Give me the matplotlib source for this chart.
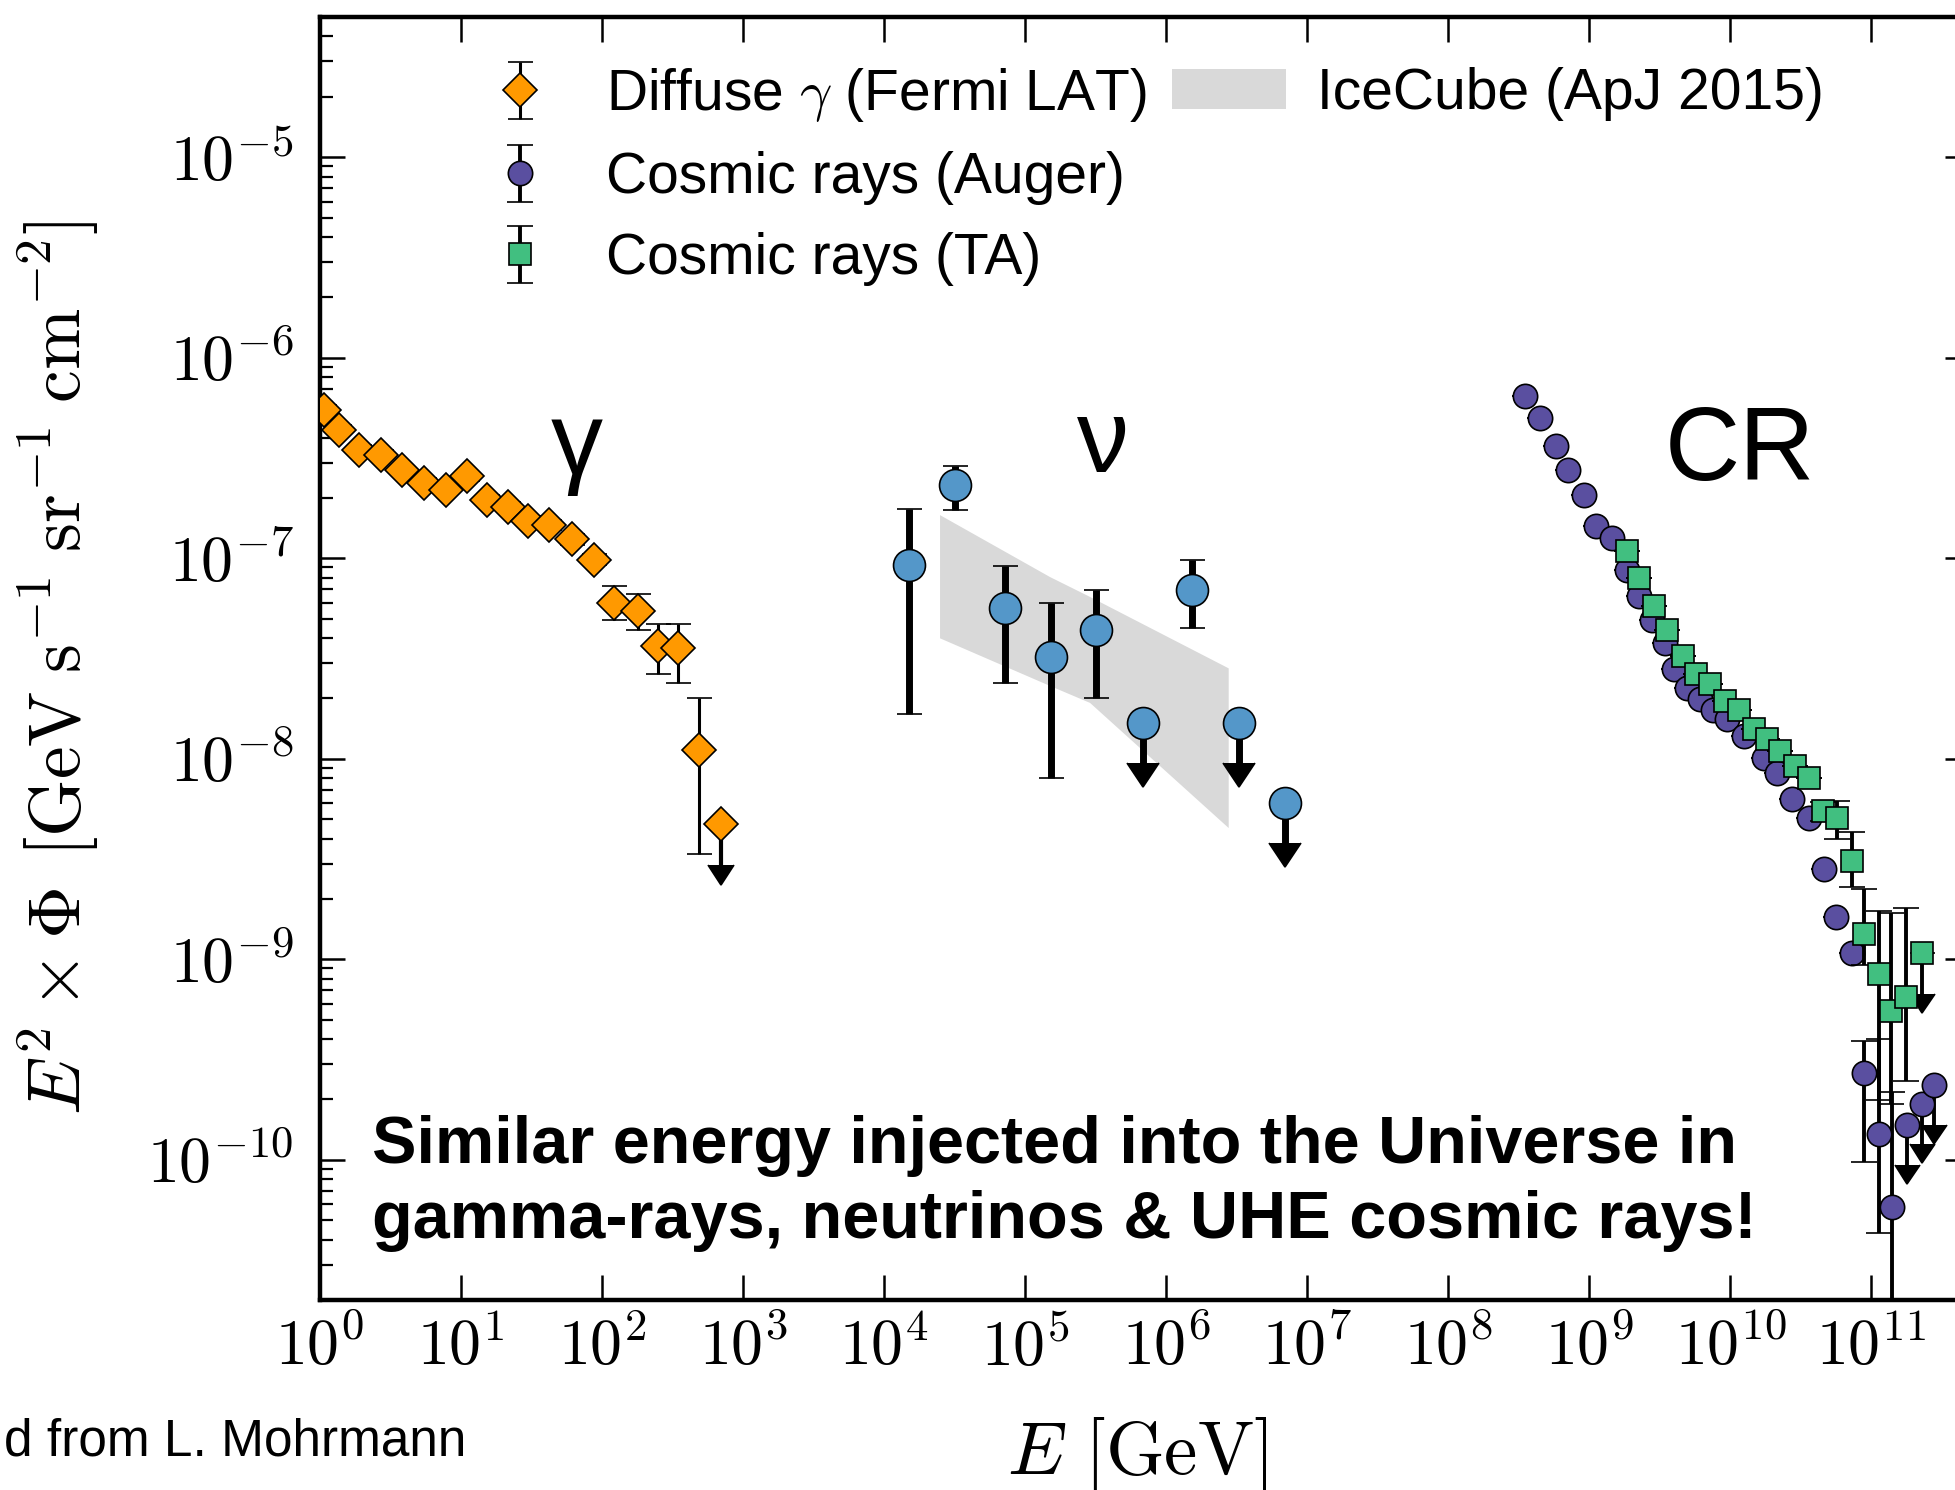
import numpy as np
import matplotlib
matplotlib.use("Agg")
import matplotlib.pyplot as plt
from matplotlib import ticker
from matplotlib.patches import Patch

# ---------------- data ----------------
fermi_E = [1.07, 1.36, 1.89, 2.69, 3.84, 5.47, 7.80, 11.1, 15.4, 21.4,
           29.6, 42.2, 61.7, 88.1, 122, 179, 248, 344, 484]
fermi_flux = [5.5e-7, 4.37e-7, 3.47e-7, 3.28e-7, 2.76e-7, 2.37e-7, 2.2e-7,
              2.56e-7, 1.96e-7, 1.81e-7, 1.53e-7, 1.47e-7, 1.24e-7, 9.84e-8,
              5.98e-8, 5.44e-8, 3.64e-8, 3.57e-8, 1.11e-8]
fermi_hi = [5.8e-7, 4.6e-7, 3.65e-7, 3.45e-7, 2.9e-7, 2.5e-7, 2.33e-7,
            2.7e-7, 2.07e-7, 1.91e-7, 1.62e-7, 1.56e-7, 1.32e-7, 1.05e-7,
            7.26e-8, 6.6e-8, 4.7e-8, 4.7e-8, 2.0e-8]
fermi_lo = [5.2e-7, 4.15e-7, 3.3e-7, 3.11e-7, 2.62e-7, 2.24e-7, 2.08e-7,
            2.42e-7, 1.85e-7, 1.71e-7, 1.44e-7, 1.38e-7, 1.16e-7, 9.2e-8,
            4.94e-8, 4.4e-8, 2.65e-8, 2.4e-8, 3.34e-9]
fermi_ul_E = [701]
fermi_ul_flux = [4.71e-9]

nu_E = [1.50e4, 3.16e4, 7.14e4, 1.52e5, 3.20e5, 1.53e6]
nu_flux = [9.22e-8, 2.31e-7, 5.65e-8, 3.21e-8, 4.41e-8, 6.92e-8]
nu_hi = [1.75e-7, 2.87e-7, 9.12e-8, 5.98e-8, 6.92e-8, 9.84e-8]
nu_lo = [1.68e-8, 1.73e-7, 2.39e-8, 7.98e-9, 2.0e-8, 4.5e-8]
nu_ul_E = [6.85e5, 3.27e6, 6.95e6]
nu_ul_flux = [1.51e-8, 1.51e-8, 6.04e-9]

icecube_E = [2.47e4, 1.49e5, 2.86e5, 2.75e6]
icecube_hi = [1.65e-7, 8.1e-8, 6.45e-8, 2.84e-8]
icecube_lo = [4.01e-8, 2.32e-8, 1.91e-8, 4.54e-9]

auger_E = [3.51e8, 4.49e8, 5.82e8, 7.11e8, 9.10e8, 1.12e9, 1.45e9, 1.85e9,
           2.24e9, 2.78e9, 3.46e9, 3.98e9, 4.92e9, 6.12e9, 7.59e9, 9.46e9,
           1.24e10, 1.72e10, 2.14e10, 2.74e10, 3.60e10, 4.59e10, 5.65e10,
           7.31e10, 8.83e10, 1.13e11, 1.41e11]
auger_flux = [6.46e-7, 5.0e-7, 3.64e-7, 2.74e-7, 2.07e-7, 1.45e-7, 1.26e-7,
              8.77e-8, 6.45e-8, 4.94e-8, 3.79e-8, 2.79e-8, 2.26e-8, 1.98e-8,
              1.76e-8, 1.57e-8, 1.30e-8, 1.01e-8, 8.53e-9, 6.28e-9, 5.09e-9,
              2.81e-9, 1.63e-9, 1.07e-9, 2.72e-10, 1.35e-10, 5.8e-11]
auger_err_up = [0, 0, 0, 0, 0, 0, 0, 0, 0, 0, 0, 0, 0, 0, 0, 0, 0, 0, 0, 0,
                0, 0, 0, 0, 1.2e-10, 2.65e-10, 1.6e-10]
auger_err_dn = [0, 0, 0, 0, 0, 0, 0, 0, 0, 0, 0, 0, 0, 0, 0, 0, 0, 0, 0, 0,
                0, 0, 0, 0, 1.74e-10, 9.2e-11, 4.8e-11]
auger_ul_E = [1.79e11, 2.29e11, 2.77e11]
auger_ul_flux = [1.49e-10, 1.9e-10, 2.37e-10]

ta_E = [1.85e9, 2.24e9, 2.89e9, 3.56e9, 4.61e9, 5.66e9, 7.21e9, 9.23e9,
        1.15e10, 1.47e10, 1.82e10, 2.26e10, 2.89e10, 3.60e10, 4.50e10,
        5.71e10, 7.31e10, 8.83e10, 1.13e11, 1.37e11, 1.75e11]
ta_flux = [1.09e-7, 7.98e-8, 5.76e-8, 4.41e-8, 3.25e-8, 2.65e-8, 2.35e-8,
           1.94e-8, 1.76e-8, 1.4e-8, 1.25e-8, 1.09e-8, 9.2e-9, 8.05e-9,
           5.5e-9, 5.09e-9, 3.1e-9, 1.33e-9, 8.4e-10, 5.5e-10, 6.47e-10]
ta_err_up = [0, 0, 0, 0, 0, 0, 0, 0, 0, 0, 0, 0, 0, 0, 6e-10, 1.1e-9,
             1.2e-9, 9.1e-10, 9.0e-10, 1.15e-9, 1.15e-9]
ta_err_dn = [0, 0, 0, 0, 0, 0, 0, 0, 0, 0, 0, 0, 0, 0, 6e-10, 1.1e-9,
             8.1e-10, 3.9e-10, 6.42e-10, 3.6e-10, 4.0e-10]
ta_ul_E = [2.29e11]
ta_ul_flux = [1.07e-9]

legend_labels = [r"Diffuse $\gamma$ (Fermi LAT)", "Cosmic rays (Auger)",
                 "Cosmic rays (TA)"]
band_label = "IceCube (ApJ 2015)"

# ---------------- style ----------------
plt.rcParams["font.family"] = ["Liberation Sans", "DejaVu Sans"]
plt.rcParams["mathtext.fontset"] = "cm"

C_FERMI = "#ff9900"
C_NU = "#5497c9"
C_AUGER = "#5a4fa0"
C_TA = "#41bf80"
C_BAND = "#d9d9d9"

W, H = 1955, 1490
fig = plt.figure(figsize=(W / 100, H / 100), dpi=100)
ax = fig.add_axes([320 / W, 1 - 1300 / H, (1970 - 320) / W, (1300 - 17) / H])

UL = 0.37  # arrow length fraction for upper limits


def asym(vals, lo, hi):
    v = np.asarray(vals)
    return [v - np.asarray(lo), np.asarray(hi) - v]


def black_carets(container):
    for cl in container.lines[1]:
        cl.set_markerfacecolor("black")
        cl.set_markeredgecolor("black")


# Fermi
eb_fermi = ax.errorbar(fermi_E, fermi_flux, yerr=asym(fermi_flux, fermi_lo, fermi_hi),
                       fmt="D", ms=17, mfc=C_FERMI, mec="black", mew=1.2,
                       ecolor="black", elinewidth=2.2, capsize=9, capthick=2.2,
                       zorder=4)
c = ax.errorbar(fermi_ul_E, fermi_ul_flux, yerr=UL * np.asarray(fermi_ul_flux), uplims=True,
                fmt="D", ms=17, mfc=C_FERMI, mec="black", mew=1.2,
                ecolor="black", elinewidth=3, capsize=9.5, capthick=2.2, zorder=4)
black_carets(c)

# IceCube band
ax.fill_between(icecube_E, icecube_lo, icecube_hi, color=C_BAND, lw=0, zorder=1)

# neutrinos
ax.errorbar(nu_E, nu_flux, yerr=asym(nu_flux, nu_lo, nu_hi),
            fmt="o", ms=23, mfc=C_NU, mec="black", mew=1.2,
            ecolor="black", elinewidth=5, capsize=9, capthick=5, zorder=4)
c = ax.errorbar(nu_ul_E, nu_ul_flux, yerr=UL * np.asarray(nu_ul_flux), uplims=True,
                fmt="o", ms=23, mfc=C_NU, mec="black", mew=1.2,
                ecolor="black", elinewidth=5, capsize=11.5, capthick=5, zorder=4)
black_carets(c)

# Auger
eb_auger = ax.errorbar(auger_E, auger_flux, yerr=[auger_err_dn, auger_err_up],
                       fmt="o", ms=17.5, mfc=C_AUGER, mec="black", mew=1.2,
                       ecolor="black", elinewidth=2.8, capsize=9.5, capthick=2.8,
                       zorder=5)
c = ax.errorbar(auger_ul_E, auger_ul_flux, yerr=UL * np.asarray(auger_ul_flux), uplims=True,
                fmt="o", ms=17.5, mfc=C_AUGER, mec="black", mew=1.2,
                ecolor="black", elinewidth=2.8, capsize=9, capthick=2.8, zorder=5)
black_carets(c)

# TA
eb_ta = ax.errorbar(ta_E, ta_flux, yerr=[ta_err_dn, ta_err_up],
                    fmt="s", ms=16, mfc=C_TA, mec="black", mew=1.2,
                    ecolor="black", elinewidth=2.8, capsize=9.5, capthick=2.8,
                    zorder=6)
c = ax.errorbar(ta_ul_E, ta_ul_flux, yerr=UL * np.asarray(ta_ul_flux), uplims=True,
                fmt="s", ms=16, mfc=C_TA, mec="black", mew=1.2,
                ecolor="black", elinewidth=2.8, capsize=9, capthick=2.8, zorder=6)
black_carets(c)

# ---------------- axes ----------------
ax.set_xscale("log")
ax.set_yscale("log")
ax.set_xlim(1, 5e11)
ax.set_ylim(2e-11, 5e-5)


def pow_fmt(v, pos):
    return r"$10^{%d}$" % int(round(np.log10(v)))


ax.xaxis.set_major_locator(ticker.LogLocator(base=10, numticks=30))
ax.xaxis.set_minor_locator(ticker.NullLocator())
ax.xaxis.set_major_formatter(ticker.FuncFormatter(pow_fmt))
ax.yaxis.set_major_locator(ticker.LogLocator(base=10, numticks=30))
ax.yaxis.set_minor_locator(ticker.LogLocator(base=10, subs=np.arange(2, 10), numticks=30))
ax.yaxis.set_major_formatter(ticker.FuncFormatter(pow_fmt))
ax.yaxis.set_minor_formatter(ticker.NullFormatter())

ax.tick_params(which="both", direction="in", top=True, right=True,
               labelsize=46, color="black")
ax.tick_params(which="major", length=18, width=1.8)
ax.tick_params(which="minor", length=9.5, width=1.6)
ax.tick_params(axis="x", which="major", pad=13)
ax.tick_params(axis="y", which="major", pad=19)
for s in ax.spines.values():
    s.set_linewidth(3.2)

ax.set_xlabel(r"$E\ [\mathrm{GeV}]$", fontsize=54)
ax.xaxis.set_label_coords(0.495, -0.09)
ax.set_ylabel(r"$E^2\times\Phi\;\,[\mathrm{GeV\;s^{-1}\;sr^{-1}\;cm^{-2}}]$", fontsize=53)
ax.yaxis.set_label_coords(-0.133, 0.493)

# ---------------- legends ----------------
leg1 = ax.legend(handles=[eb_fermi, eb_auger, eb_ta], labels=legend_labels,
                 loc="upper left", bbox_to_anchor=(492 / W, 1 - 66 / H),
                 bbox_transform=fig.transFigure, frameon=False, fontsize=41,
                 handlelength=1.0, handletextpad=1.0, labelspacing=0.475,
                 borderpad=0, borderaxespad=0, numpoints=1)
ax.add_artist(leg1)
ax.legend(handles=[Patch(facecolor=C_BAND, edgecolor="none")], labels=[band_label],
          loc="upper left", bbox_to_anchor=(1172 / W, 1 - 67 / H),
          bbox_transform=fig.transFigure, frameon=False, fontsize=41,
          handlelength=2.0, handletextpad=0.55, borderpad=0, borderaxespad=0)

# ---------------- annotations ----------------
fig.text(577 / W, 1 - 474 / H, "γ", fontsize=75, ha="center", va="baseline")
fig.text(1103 / W, 1 - 472 / H, "ν", fontsize=75, ha="center", va="baseline")
fig.text(1665 / W, 1 - 480 / H, "CR", fontsize=75, ha="left", va="baseline")
fig.text(372 / W, 1 - 1163 / H, "Similar energy injected into the Universe in",
         fontsize=48, fontweight="bold", ha="left", va="baseline")
fig.text(372 / W, 1 - 1238 / H, "gamma-rays, neutrinos & UHE cosmic rays!",
         fontsize=48, fontweight="bold", ha="left", va="baseline")
fig.text(0.002, 1 - 1456 / H, "d from L. Mohrmann", fontsize=37,
         ha="left", va="baseline")

fig.savefig("out.png", dpi=100)
